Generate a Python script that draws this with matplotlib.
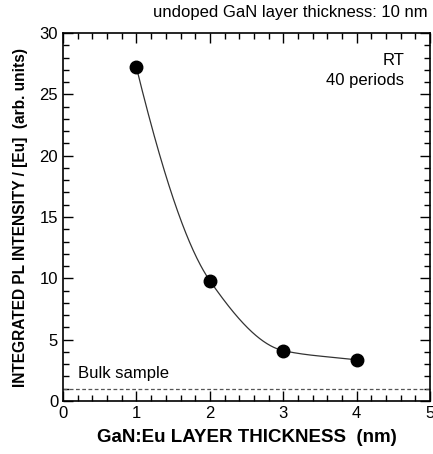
import numpy as np
import matplotlib
matplotlib.use('Agg')
import matplotlib.pyplot as plt
from matplotlib.ticker import MultipleLocator

plt.rcParams['font.family'] = ['Liberation Sans', 'DejaVu Sans']

thickness = [1, 2, 3, 4]
intensity = [27.2, 9.8, 4.1, 3.35]
bulk_level = 1.0


def pchip(x, y, xs):
    # monotone cubic through the data points, only used for the guide line
    x = np.asarray(x, float)
    y = np.asarray(y, float)
    h = np.diff(x)
    d = np.diff(y) / h
    m = np.zeros_like(y)
    for k in range(1, len(x) - 1):
        if d[k - 1] * d[k] > 0:
            w1 = 2 * h[k] + h[k - 1]
            w2 = h[k] + 2 * h[k - 1]
            m[k] = (w1 + w2) / (w1 / d[k - 1] + w2 / d[k])
    m[0] = d[0] * 1.4
    m[-1] = d[-1]
    ys = np.empty_like(xs)
    for i, xv in enumerate(xs):
        k = min(np.searchsorted(x, xv, side='right') - 1, len(x) - 2)
        t = (xv - x[k]) / h[k]
        h00 = 2 * t**3 - 3 * t**2 + 1
        h10 = t**3 - 2 * t**2 + t
        h01 = -2 * t**3 + 3 * t**2
        h11 = t**3 - t**2
        ys[i] = h00 * y[k] + h10 * h[k] * m[k] + h01 * y[k + 1] + h11 * h[k] * m[k + 1]
    return ys


fig = plt.figure(figsize=(4.33, 4.54), dpi=100)
ax = fig.add_axes([0.1455, 0.117, 0.848, 0.81])

xs = np.linspace(thickness[0], thickness[-1], 300)
ax.plot(xs, pchip(thickness, intensity, xs), color='#333333', lw=0.9)
ax.plot(thickness, intensity, 'o', color='black', ms=9)
ax.axhline(bulk_level, color='#555555', lw=0.9, ls=(0, (3, 2)))

ax.set_xlim(0, 5)
ax.set_ylim(0, 30)
ax.xaxis.set_major_locator(MultipleLocator(1))
ax.xaxis.set_minor_locator(MultipleLocator(0.2))
ax.yaxis.set_major_locator(MultipleLocator(5))
ax.yaxis.set_minor_locator(MultipleLocator(1))
ax.tick_params(which='both', direction='in', top=True, right=True, labelsize=12, width=1)
ax.tick_params(which='major', length=7)
ax.tick_params(which='minor', length=4)
for s in ax.spines.values():
    s.set_linewidth(1.2)

ax.set_xlabel('GaN:Eu LAYER THICKNESS  (nm)', fontsize=13.5, fontweight='bold', labelpad=6)
ax.set_ylabel('INTEGRATED PL INTENSITY / [Eu]  (arb. units)', fontsize=11.2, fontweight='bold', labelpad=8)

ax.text(0.93, 0.925, 'RT', transform=ax.transAxes, ha='right', va='center', fontsize=12)
ax.text(0.93, 0.87, '40 periods', transform=ax.transAxes, ha='right', va='center', fontsize=12)
ax.text(0.042, 0.075, 'Bulk sample', transform=ax.transAxes, ha='left', va='center', fontsize=12)
fig.text(0.988, 0.972, 'undoped GaN layer thickness: 10 nm', ha='right', va='center', fontsize=12)

fig.savefig('out.png', dpi=100)
